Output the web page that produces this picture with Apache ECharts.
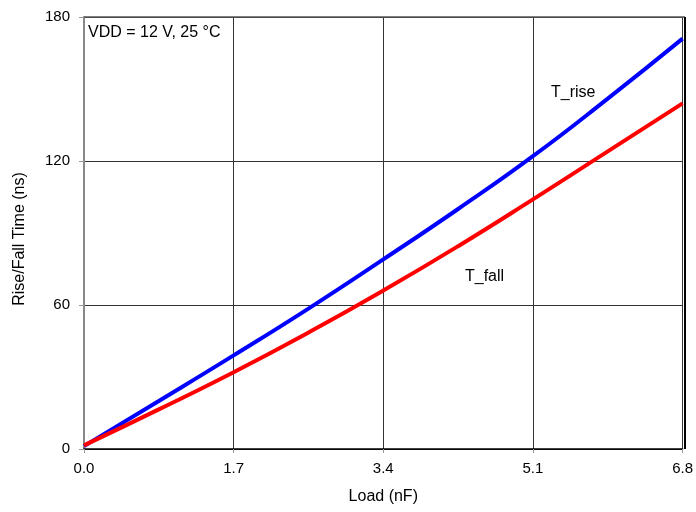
<!DOCTYPE html>
<html><head><meta charset="utf-8">
<script src="https://cdn.jsdelivr.net/npm/echarts@6/dist/echarts.min.js"></script>
<style>html,body{margin:0;padding:0;background:#fff}#c{width:696px;height:512px}</style>
</head><body><div id="c"></div>
<script>
const loadNF = [0, 0.85, 1.7, 2.55, 3.4, 4.25, 5.1, 5.95, 6.8];
const tRise = [1.2, 20, 39, 58.5, 79, 100, 122, 146, 171];
const tFall = [1.5, 16.5, 32, 48.5, 66, 84.5, 104, 124, 144];
const xTicks = [0, 1.7, 3.4, 5.1, 6.8];
const yTicks = [0, 60, 120, 180];

const chart = echarts.init(document.getElementById('c'));
const font = 'Liberation Sans, Arial, sans-serif';
chart.setOption({
  animation: false,
  grid: {left: 84, right: 11, top: 17, bottom: 63, show: true, borderColor: '#000', borderWidth: 0},
  xAxis: {
    type: 'value', min: 0, max: 6.8, interval: 1.7,
    name: 'Load (nF)', nameLocation: 'middle', nameGap: 40,
    nameTextStyle: {fontFamily: font, fontSize: 16, color: '#000'},
    axisLine: {show: true, lineStyle: {color: '#000', width: 1.5}},
    axisTick: {show: true, length: 4, lineStyle: {color: '#999'}},
    axisLabel: {fontFamily: font, fontSize: 15, color: '#000', margin: 12,
      formatter: v => v.toFixed(1)},
    splitLine: {show: true, lineStyle: {color: '#333', width: 1}}
  },
  yAxis: {
    type: 'value', min: 0, max: 180, interval: 60,
    axisLine: {show: true, lineStyle: {color: '#888', width: 2}},
    axisTick: {show: true, length: 5, lineStyle: {color: '#999'}},
    axisLabel: {fontFamily: font, fontSize: 15, color: '#000', margin: 14},
    splitLine: {show: true, lineStyle: {color: '#333', width: 1}}
  },
  series: [
    {name: 'T_rise', type: 'line', smooth: true, symbol: 'none',
     data: loadNF.map((x, i) => [x, tRise[i]]),
     lineStyle: {color: '#0000ff', width: 4}},
    {name: 'T_fall', type: 'line', smooth: true, symbol: 'none',
     data: loadNF.map((x, i) => [x, tFall[i]]),
     lineStyle: {color: '#ff0000', width: 4}}
  ],
  graphic: [
    {type: 'line', shape: {x1: 84, y1: 17, x2: 685, y2: 17}, style: {stroke: '#555', lineWidth: 1.5}, z: 10},
    {type: 'line', shape: {x1: 685, y1: 17, x2: 685, y2: 449}, style: {stroke: '#000', lineWidth: 2}, z: 10},
    {type: 'text', x: 19.5, y: 239, rotation: Math.PI / 2,
     style: {text: 'Rise/Fall Time (ns)', font: '16px ' + font, fill: '#000', align: 'center', verticalAlign: 'middle'}},
    {type: 'text', left: 88, top: 25, style: {text: 'VDD = 12 V, 25 °C', font: '16px ' + font, fill: '#000'}},
    {type: 'text', left: 551, top: 85, style: {text: 'T_rise', font: '16px ' + font, fill: '#000'}},
    {type: 'text', left: 465, top: 269, style: {text: 'T_fall', font: '16px ' + font, fill: '#000'}}
  ]
});
</script></body></html>
